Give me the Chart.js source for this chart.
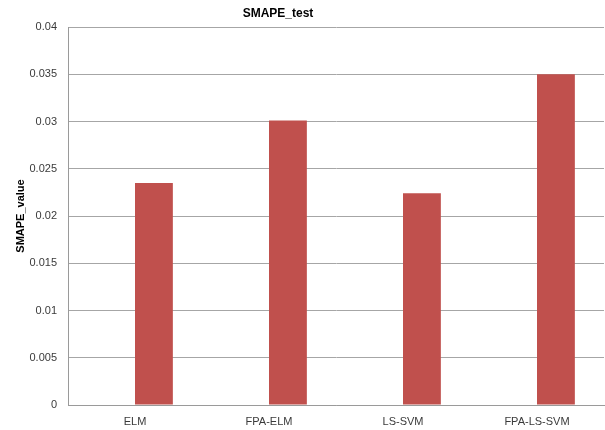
<!DOCTYPE html>
<html>
<head>
<meta charset="utf-8">
<script src="https://cdn.jsdelivr.net/npm/chart.js@4/dist/chart.umd.min.js"></script>
<style>
  html, body { margin: 0; padding: 0; background: #fff; }
  #wrap { width: 605px; height: 430px; }
</style>
</head>
<body>
<div id="wrap"><canvas id="myChart" width="605" height="430"></canvas></div>
<script>
var categories = ["ELM", "FPA-ELM", "LS-SVM", "FPA-LS-SVM"];
var blankSeries = [null, null, null, null];   // empty first series in the original sheet
var smapeTest = [0.0235, 0.0301, 0.0224, 0.035];
var yTicks = [0, 0.005, 0.01, 0.015, 0.02, 0.025, 0.03, 0.035, 0.04];

var chartTitle = "SMAPE_test";
var yTitle = "SMAPE_value";

// title sits left of centre in the original, so draw it by hand
var titlePlugin = {
    id: 'sideTitle',
    afterDraw: function(c) {
        var ctx = c.ctx;
        ctx.save();
        ctx.font = 'bold 12px "Liberation Sans"';
        ctx.fillStyle = '#000';
        ctx.textAlign = 'center';
        ctx.textBaseline = 'middle';
        ctx.fillText(chartTitle, 278, 14);
        ctx.restore();
    }
};

var ctx = document.getElementById("myChart").getContext('2d');
var chart = new Chart(ctx, {
    type: 'bar',
    data: {
        labels: categories,
        datasets: [{
            label: 'blank',
            data: blankSeries,
            backgroundColor: '#4F81BD'
        }, {
            label: chartTitle,
            data: smapeTest,
            backgroundColor: '#C0504D'
        }]
    },
    options: {
        responsive: false,
        animation: false,
        categoryPercentage: 0.565,
        barPercentage: 1,
        layout: { padding: { top: 27, right: 1, left: 0, bottom: 0 } },
        plugins: {
            legend: { display: false },
            title: { display: false },
            tooltip: { enabled: false }
        },
        scales: {
            x: {
                grid: { display: false, drawTicks: false },
                border: { color: '#9a9a9a', width: 1 },
                ticks: {
                    padding: 10,
                    color: '#3a3a3a',
                    font: { family: 'Liberation Sans', size: 11 }
                },
                afterFit: function(s) { s.height = 25; }
            },
            y: {
                min: 0,
                max: 0.04,
                afterBuildTicks: function(s) {
                    s.ticks = yTicks.map(function(v) { return { value: v }; });
                },
                grid: { color: '#a6a6a6', drawTicks: false },
                border: { color: '#9a9a9a', width: 1 },
                ticks: {
                    padding: 11,
                    color: '#3a3a3a',
                    font: { family: 'Liberation Sans', size: 11 },
                    callback: function(v) { return String(parseFloat(v.toFixed(3))); }
                },
                title: {
                    display: true,
                    text: yTitle,
                    color: '#000',
                    font: { family: 'Liberation Sans', size: 11, weight: 'bold' },
                    padding: { top: 14, bottom: 0 }
                },
                afterFit: function(s) { s.width = 68; }
            }
        }
    },
    plugins: [titlePlugin]
});
</script>
</body>
</html>
